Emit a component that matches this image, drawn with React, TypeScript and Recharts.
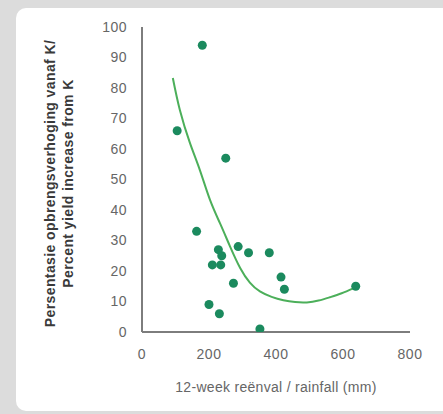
import { ComposedChart, Scatter, Line, XAxis, YAxis, Label } from 'recharts';

const rainfall = [180, 105, 250, 163, 228, 238, 210, 235, 287, 318, 380, 273, 415, 425, 200, 231, 352, 638];
const yieldIncrease = [94, 66, 57, 33, 27, 25, 22, 22, 28, 26, 26, 16, 18, 14, 9, 6, 1, 15];

// trend curve
const trendX = [92, 113, 143, 173, 203, 233, 263, 293, 322, 352, 387, 422, 457, 492, 527, 561, 596, 631];
const trendY = [83.3, 72.8, 62, 53, 43.3, 35.6, 28, 21, 16.2, 13.3, 11.5, 10.4, 9.8, 9.7, 10.3, 11.4, 12.7, 14.3];

const xTicks = [0, 200, 400, 600, 800];
const yTicks = [0, 10, 20, 30, 40, 50, 60, 70, 80, 90, 100];

const points = rainfall.map((x, i) => ({ x, y: yieldIncrease[i] }));
const trend = trendX.map((x, i) => ({ x, y: trendY[i] }));

const font = 'Liberation Sans, Arial, sans-serif';

const YTitle = (props: any) => {
  const { viewBox } = props;
  const cy = viewBox.y + viewBox.height / 2 + 4;
  return (
    <g>
      <text x={50} y={cy} transform={`rotate(-90, 50, ${cy})`} textAnchor="middle" dominantBaseline="central"
        fontSize={14} fontWeight={700} fill="#3a3a3a" fontFamily={font} letterSpacing={0.4}>
        Persentasie opbrengsverhoging vanaf K/
      </text>
      <text x={68} y={cy} transform={`rotate(-90, 68, ${cy})`} textAnchor="middle" dominantBaseline="central"
        fontSize={14} fontWeight={700} fill="#3a3a3a" fontFamily={font} letterSpacing={0.4}>
        Percent yield increase from K
      </text>
    </g>
  );
};

export default function App() {
  const tickStyle = { fontSize: 14, fill: '#666', fontFamily: font, letterSpacing: 0.5 };
  return (
    <div style={{ position: 'absolute', left: 0, top: 0, width: 443, height: 414, background: '#dcdcdc', overflow: 'hidden' }}>
      <div style={{ position: 'absolute', left: 16, top: 8, width: 440, height: 403, background: '#fff', borderRadius: 10 }} />
      <div style={{ position: 'absolute', left: 0, top: 0 }}>
        <ComposedChart width={443} height={414} margin={{ top: 27, right: 33, left: 82, bottom: 52 }}>
          <XAxis type="number" dataKey="x" domain={[0, 800]} ticks={xTicks} tickLine={false} tickSize={0} tickMargin={17}
            axisLine={{ stroke: '#7d7d7d', strokeWidth: 2 }} tick={tickStyle} height={30} allowDataOverflow>
            <Label value="12-week reënval / rainfall (mm)" position="bottom" offset={20}
              style={{ fontSize: 14, fill: '#666', fontFamily: font, letterSpacing: 0.3 }} />
          </XAxis>
          <YAxis type="number" dataKey="y" domain={[0, 100]} ticks={yTicks} tickLine={false} tickSize={0} tickMargin={15}
            axisLine={{ stroke: '#7d7d7d', strokeWidth: 2 }} tick={tickStyle} width={60} allowDataOverflow>
            <Label content={<YTitle />} />
          </YAxis>
          <Line data={trend} dataKey="y" type="natural" stroke="#4caf5a" strokeWidth={2} dot={false} isAnimationActive={false} />
          <Scatter data={points} dataKey="y" fill="#1b8a5e" shape={(p: any) => <circle cx={p.cx} cy={p.cy} r={4.5} fill="#1b8a5e" />} isAnimationActive={false} />
        </ComposedChart>
      </div>
    </div>
  );
}
